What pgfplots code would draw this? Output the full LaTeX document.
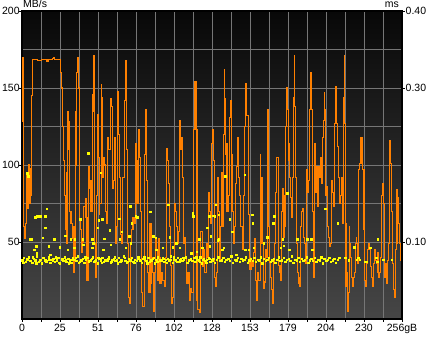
\documentclass[border=0pt]{standalone}
\usepackage{fontspec}
\setmainfont{Liberation Sans}
\usepackage{pgfplots}
\usepackage{pgfplotstable}
\pgfplotsset{compat=1.18}
\definecolor{hdorange}{RGB}{255,128,0}
\definecolor{hdyellow}{RGB}{255,255,0}
\definecolor{gridgray}{RGB}{118,118,118}
\definecolor{bgtop}{RGB}{8,8,8}
\definecolor{bgmid}{RGB}{28,28,28}
\definecolor{bgbot}{RGB}{70,70,70}

\pgfplotstableread{
x y
0.2 128
0.5 170
0.9 75
1.3 60
2.0 52
2.6 62
3.2 95
3.8 72
4.5 100
5.0 75
5.5 98
6.0 80
6.4 145
7.0 146
7.2 168.5
10.0 168.5
10.3 168
13.0 168.5
16.6 167
17.5 168.5
20.5 169
21.1 170
21.6 168.5
25.8 168.5
26.1 160
26.5 150
27.0 125
27.8 103
28.5 80
29.2 58
29.8 49
30.3 95
30.8 135
31.3 110
31.8 128
32.3 70
33.0 62
34.0 52
34.5 60
35.0 30
35.5 40
36.0 135
36.5 100
37.0 160
37.5 170
38.2 150
38.6 65
39.2 58
40.0 43
40.6 50
41.5 73
42.5 78
43.1 66
43.8 25
44.5 80
44.9 99
45.5 85
46.0 90
46.5 70
47.2 146
48.0 171
48.5 135
49.0 49
49.5 27
50.2 80
50.8 133
51.3 105
52.0 68
52.5 75
53.3 152
53.8 144
54.5 92
55.0 105
55.6 100
56.3 70
57.0 62
57.8 118
58.5 110
59.5 143
60.0 138
60.8 85
61.5 90
62.2 118
63.0 49
63.5 60
64.5 148
65.0 120
65.6 92
66.5 55
67.3 49
68.0 92
68.8 142
69.6 168
70.3 110
70.8 49
71.6 14
72.3 10
73.0 49
73.8 58
74.8 66
75.6 62
76.3 114
77.0 103
77.5 75
78.4 123
79.0 105
79.6 70
80.5 17
81.2 8
82.5 107
83.5 136
84.0 90
84.8 30
85.5 17
86.2 62
86.9 23
87.5 40
88.0 30
88.9 5
89.5 30
90.0 53
90.6 45
91.2 25
91.8 52
92.5 40
93.0 23
94.0 30
94.8 25
96.0 21
96.8 40
97.5 111
98.0 103
98.6 88
99.2 60
99.8 35
100.6 10
101.3 14
102.0 40
102.6 75
103.2 70
103.8 60
104.6 49
105.3 57
106.2 129
106.8 110
107.4 118
108.0 92
108.7 49
109.5 53
110.2 40
111.0 23
111.8 30
112.7 12
113.5 20
114.3 17
115.4 123
116.4 154
117.2 123
117.9 12
118.5 6
119.3 4
120.0 49
120.5 57
121.3 34
122.0 45
123.0 30
124.0 49
124.8 40
125.5 82
126.2 70
126.9 62
127.7 114
128.5 123
129.0 103
129.3 103
129.8 27
130.5 21
131.2 30
132.0 92
132.4 70
132.9 38
133.5 60
134.3 95
134.9 75
135.4 60
136.0 120
136.3 162
136.7 143
137.0 107
137.6 114
138.1 70
138.8 80
139.5 114
140.0 131
140.6 142
141.0 107
141.5 70
142.4 49
143.2 60
143.7 88
144.6 99
145.2 118
145.7 92
146.5 80
147.5 60
148.4 45
149.3 80
149.8 125
150.5 153
150.9 140
151.4 132
152.3 68
153.0 40
153.6 32
154.5 38
155.2 34
156.0 43
156.8 52
157.4 25
158.1 12
158.8 30
159.5 25
160.4 107
160.9 92
161.7 49
162.4 20
163.0 24
164.0 45
164.6 40
165.3 136
165.8 80
166.2 60
167.0 37
167.5 27
168.3 19
168.9 10
169.5 37
170.2 49
170.8 82
171.5 105
172.5 66
172.9 35
173.8 30
174.3 25
175.0 70
175.5 85
176.1 53
176.7 60
177.2 80
177.8 125
178.3 150
178.8 136
179.3 103
180.0 114
180.5 92
181.0 79
181.6 66
182.3 92
182.9 144
183.4 171
183.8 138
184.3 92
184.8 49
185.3 30
186.0 27
186.6 23
187.3 21
187.8 60
188.3 70
189.0 72
189.6 53
190.4 49
191.0 36
191.8 97
192.3 82
193.0 90
193.6 136
194.4 160
194.9 136
195.4 125
195.9 70
196.3 27
196.9 114
197.5 82
198.1 99
198.8 73
199.4 80
200.0 99
200.7 92
201.2 105
201.7 88
202.4 118
203.0 129
203.6 147
204.0 136
204.6 80
205.2 86
205.8 60
206.4 53
207.0 47
207.6 49
208.4 90
208.9 82
209.6 73
210.4 127
211.3 151
211.9 127
212.6 112
213.3 92
214.0 75
214.8 80
215.6 92
216.0 62
216.5 144
217.1 171
217.4 127
217.8 62
218.3 21
218.8 30
219.2 5
219.9 17
220.4 60
220.9 49
221.5 40
222.0 27
222.6 21
223.2 27
223.9 30
224.6 49
225.1 53
225.6 49
226.1 36
226.7 97
227.2 101
227.9 118
228.4 101
229.1 118
229.6 97
230.4 58
231.0 25
231.6 21
232.3 36
232.8 45
233.6 49
234.2 45
234.9 34
235.5 27
236.0 21
236.7 36
237.4 45
238.0 38
238.7 36
239.3 30
239.8 43
240.4 27
241.0 30
241.6 40
242.4 80
243.0 88
243.6 75
244.3 27
245.0 36
245.6 23
246.4 38
247.0 49
247.5 116
248.0 107
248.5 101
249.2 70
249.7 36
250.4 19
251.0 14
251.5 45
252.0 49
252.6 84
253.2 79
253.8 62
254.4 49
254.9 38
255.6 51
256.0 51
}\ratedata

\pgfplotstableread{
x t
0.4 .076
1.5 .079
2.6 .074
3.7 .077
4.8 .080
5.9 .075
7.0 .073
8.1 .078
9.2 .076
10.3 .081
11.4 .074
12.5 .077
13.6 .072
14.7 .079
15.8 .076
16.9 .075
18.0 .080
19.1 .073
20.2 .077
21.3 .078
22.4 .074
23.5 .076
24.6 .079
25.7 .072
26.8 .077
27.9 .075
29.0 .080
30.1 .074
31.2 .078
32.3 .076
33.4 .073
34.5 .079
35.6 .077
36.7 .075
37.8 .081
38.9 .074
40.0 .076
41.1 .078
42.2 .073
43.3 .077
44.4 .079
45.5 .075
46.6 .076
47.7 .080
48.8 .074
49.9 .077
51.0 .072
52.1 .078
53.2 .076
54.3 .079
55.4 .074
56.5 .077
57.6 .075
58.7 .080
59.8 .073
60.9 .077
62.0 .078
63.1 .075
64.2 .076
65.3 .079
66.4 .074
67.5 .077
68.6 .081
69.7 .075
70.8 .073
71.9 .078
73.0 .076
74.1 .079
75.2 .074
76.3 .077
77.4 .075
78.5 .080
79.6 .076
80.7 .073
81.8 .078
82.9 .077
84.0 .075
85.1 .079
86.2 .074
87.3 .076
88.4 .078
89.5 .072
90.6 .077
91.7 .080
92.8 .075
93.9 .076
95.0 .079
96.1 .074
97.2 .077
98.3 .078
99.4 .075
100.5 .081
101.6 .073
102.7 .077
103.8 .076
104.9 .079
106.0 .074
107.1 .078
108.2 .075
109.3 .077
110.4 .080
111.5 .073
112.6 .076
113.7 .078
114.8 .075
115.9 .079
117.0 .074
118.1 .077
119.2 .076
120.3 .080
121.4 .072
122.5 .078
123.6 .075
124.7 .077
125.8 .079
126.9 .074
128.0 .076
129.1 .078
130.2 .073
131.3 .077
132.4 .080
133.5 .075
134.6 .076
135.7 .079
136.8 .074
137.9 .077
139.0 .078
140.1 .075
141.2 .081
142.3 .073
143.4 .077
144.5 .076
145.6 .079
146.7 .074
147.8 .078
148.9 .075
150.0 .077
151.1 .080
152.2 .073
153.3 .076
154.4 .078
155.5 .075
156.6 .079
157.7 .074
158.8 .077
159.9 .076
161.0 .080
162.1 .072
163.2 .078
164.3 .075
165.4 .077
166.5 .079
167.6 .074
168.7 .076
169.8 .078
170.9 .073
172.0 .077
173.1 .080
174.2 .075
175.3 .076
176.4 .079
177.5 .074
178.6 .077
179.7 .078
180.8 .075
181.9 .081
183.0 .073
184.1 .077
185.2 .076
186.3 .079
187.4 .074
188.5 .078
189.6 .075
190.7 .077
191.8 .080
192.9 .073
194.0 .076
195.1 .078
196.2 .075
197.3 .079
198.4 .074
199.5 .077
200.6 .076
201.7 .080
202.8 .072
203.9 .078
205.0 .075
206.1 .077
207.2 .079
208.3 .074
209.4 .076
210.5 .078
211.6 .073
212.7 .077
213.8 .079
1.0 .073
3.2 .078
5.4 .075
7.6 .080
9.8 .072
12.0 .076
14.2 .079
16.4 .074
18.6 .077
20.8 .075
23.0 .080
25.2 .073
27.4 .078
29.6 .076
31.8 .072
34.0 .077
36.2 .079
38.4 .073
40.6 .076
42.8 .080
45.0 .074
47.2 .078
49.4 .075
51.6 .079
53.8 .073
56.0 .076
58.2 .078
60.4 .074
62.6 .080
64.8 .072
67.0 .076
69.2 .079
71.4 .074
73.6 .077
75.8 .073
78.0 .078
80.2 .075
82.4 .080
84.6 .072
86.8 .077
89.0 .079
91.2 .074
93.4 .076
95.6 .078
97.8 .073
100.0 .077
102.2 .080
104.4 .074
106.6 .076
108.8 .079
111.0 .073
113.2 .077
115.4 .075
117.6 .080
119.8 .074
122.0 .077
124.2 .073
126.4 .078
128.6 .076
3.6 .189
4.5 .185
9.0 .132
10.5 .133
12.4 .133
15.7 .133
16.8 .143
15.7 .118
5.6 .103
6.7 .103
14.1 .105
21.8 .103
9.7 .094
8.5 .090
18.0 .094
25.8 .093
29.2 .108
33.2 .103
35.9 .103
30.8 .090
35.5 .092
39.3 .129
40.9 .103
41.5 .096
10.1 .085
19.1 .083
44.9 .215
53.2 .190
51.7 .128
54.3 .129
51.4 .118
59.3 .115
55.5 .104
65.6 .130
67.4 .113
66.0 .103
73.0 .146
74.1 .124
72.3 .107
76.8 .133
77.9 .132
48.3 .098
47.6 .092
54.8 .090
60.0 .096
70.1 .092
73.4 .098
47.6 .103
86.7 .139
90.3 .105
88.5 .107
94.8 .092
98.6 .148
99.7 .106
101.9 .093
104.2 .098
106.4 .092
115.4 .137
115.6 .133
119.5 .103
121.7 .092
124.9 .118
126.2 .133
127.3 .107
128.5 .134
114.3 .085
117.7 .087
126.7 .094
90.7 .090
130.5 .148
132.7 .135
130.0 .133
132.7 .103
136.1 .092
137.2 .185
140.1 .129
141.7 .113
144.6 .083
150.2 .187
150.7 .090
152.9 .090
155.2 .135
155.8 .124
156.3 .092
163.0 .098
165.3 .106
169.3 .124
170.2 .133
132.0 .102
135.0 .090
178.8 .163
175.8 .103
176.5 .095
180.3 .090
185.5 .103
192.2 .103
194.9 .103
195.6 .090
204.4 .143
212.9 .124
174.3 .092
217.8 .079
220.1 .076
223.9 .093
225.7 .077
226.8 .079
227.9 .077
230.9 .074
232.2 .074
234.7 .092
238.7 .079
239.4 .074
239.8 .103
243.6 .077
249.3 .077
}\accessdata

\begin{document}
\begin{tikzpicture}[font=\fontsize{10.5bp}{12bp}\selectfont]
\path[use as bounding box, fill=white] (-22bp,-18bp) rectangle (404bp,319bp);
\begin{axis}[
  at={(0,0)}, anchor=south west,
  width=380bp, height=308bp, scale only axis,
  clip mode=individual,
  xmin=0, xmax=256, ymin=0, ymax=200,
  xtick={0,25.6,51.2,76.8,102.4,128,153.6,179.2,204.8,230.4,256},
  xticklabels={0,25,51,76,102,128,153,179,204,230,256gB},
  minor x tick num=1,
  ytick={50,100,150,200},
  minor y tick num=1,
  grid=both,
  major grid style={gridgray, line width=0.9bp},
  minor grid style={gridgray, line width=0.9bp},
  axis background/.style={top color=bgtop, middle color=bgmid, bottom color=bgbot},
  axis line style={black, line width=2bp},
  tick align=outside,
  major tick length=2.5bp, minor tick length=2.5bp,
  tick style={black, line width=0.8bp},
  minor y tick style={draw=none},
  xtick pos=bottom, ytick pos=left,
  /pgf/number format/assume math mode=true,
  xticklabel style={inner ysep=1bp, yshift=-1.5bp},
  yticklabel style={inner xsep=0.5bp, xshift=0.8bp},
]
\addplot[const plot, hdorange, line width=1.1bp] table[x=x, y=y] {\ratedata};
\node[anchor=base west, inner sep=0pt] at (rel axis cs:0,1) [xshift=1bp, yshift=3.5bp] {MB/s};
\node[anchor=base east, inner sep=0pt] at (rel axis cs:1,1) [xshift=-3bp, yshift=3.5bp] {ms};
\end{axis}
\begin{axis}[
  at={(0,0)}, anchor=south west,
  width=380bp, height=308bp, scale only axis,
  xmin=0, xmax=256, ymin=0, ymax=0.4,
  axis x line=none, axis y line*=right,
  ytick={0.1,0.3,0.4},
  yticklabels={0.10,0.30,0.40},
  axis line style={black, line width=2bp},
  tick align=outside, major tick length=2.5bp,
  tick style={black, line width=0.8bp},
  /pgf/number format/assume math mode=true,
  yticklabel style={inner xsep=0.5bp, xshift=0.5bp},
]
\addplot[only marks, mark=square*, mark size=0.7bp, color=hdyellow, mark options={line width=0pt}] table[x=x, y=t] {\accessdata};
\end{axis}
\end{tikzpicture}
\end{document}
